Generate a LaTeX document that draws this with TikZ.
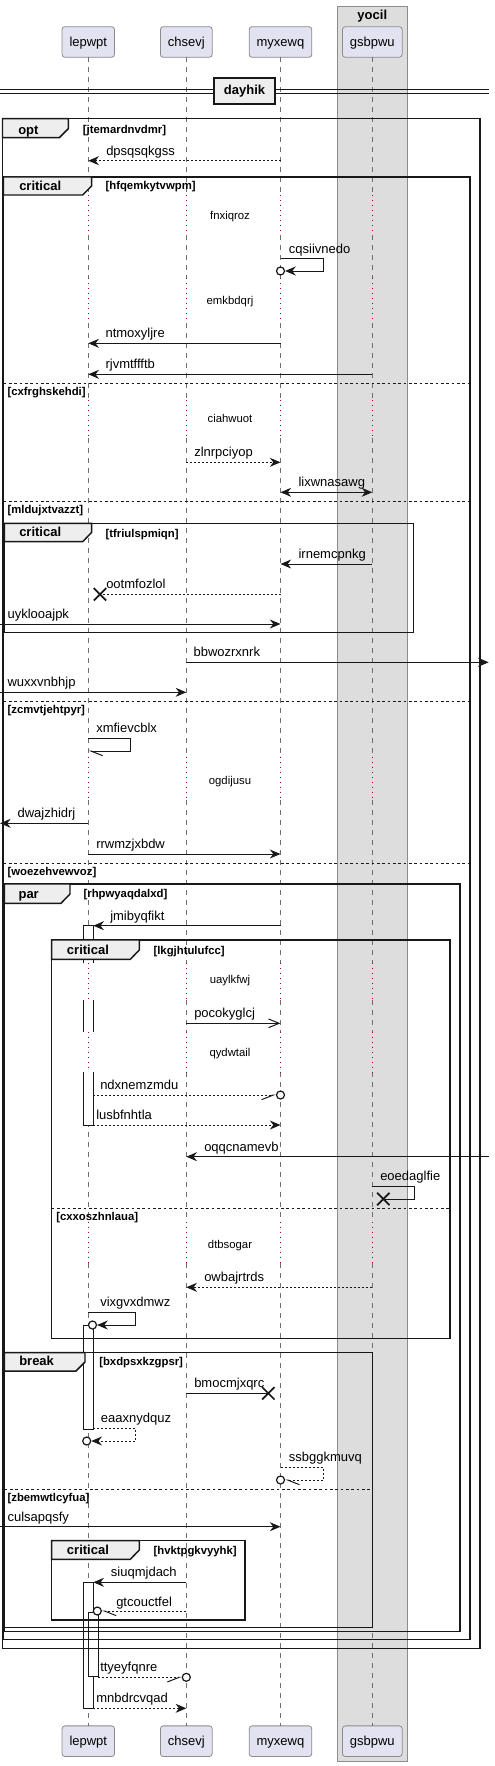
\documentclass[tikz,border=0pt]{standalone}
\usepackage{fontspec}
\setmainfont{Liberation Sans}
\usetikzlibrary{positioning,calc,arrows.meta,shapes.misc}
\definecolor{seqPartFill}{HTML}{E2E2F0}
\definecolor{seqPartLine}{HTML}{8C8C8C}
\definecolor{seqBoxFill}{HTML}{DDDDDD}
\definecolor{seqBoxLine}{HTML}{8C8C8C}
\definecolor{seqTabFill}{HTML}{EEEEEE}
\definecolor{seqLifeLine}{HTML}{707070}
\definecolor{seqDelayLine}{HTML}{A80036}
\definecolor{seqInk}{HTML}{181818}
\newcommand{\msgfont}{\fontsize{9.75}{11.5}\selectfont}
\newcommand{\notefont}{\fontsize{8.5}{10}\selectfont}
\tikzset{
  part/.style={
    rectangle, rounded corners=2.2pt,
    draw=seqPartLine, fill=seqPartFill, line width=0.6pt,
    inner xsep=5.6pt, minimum height=23pt,
    text height=7.5pt, text depth=0.5pt, font=\msgfont,
  },
  seq box/.style={draw=seqBoxLine, fill=seqBoxFill, line width=0.6pt},
  box title/.style={font=\msgfont\bfseries, anchor=base, inner sep=0pt},
  life/.style={draw=seqLifeLine, line width=0.6pt, dash pattern=on 3.75pt off 3.75pt},
  delay line/.style={draw=seqDelayLine, line width=0.75pt, dash pattern=on 0.75pt off 3pt},
  delay text/.style={font=\notefont, anchor=base, inner sep=0pt},
  divider/.style={
    rectangle, draw=seqInk, fill=seqTabFill, line width=1.5pt,
    minimum width=45.75pt, minimum height=19.5pt, font=\msgfont\bfseries,
  },
  group frame/.style={draw=seqInk, line width=1.1pt},
  group tab/.style={draw=seqInk, fill=seqTabFill, line width=1.1pt},
  group title/.style={font=\msgfont\bfseries, anchor=base west, inner sep=0pt},
  group guard/.style={font=\notefont\bfseries, anchor=base west, inner sep=0pt},
  else line/.style={draw=seqInk, line width=0.75pt, dash pattern=on 2pt off 2pt},
  msg line/.style={draw=seqInk, line width=0.75pt},
  msg/.style={msg line, -{Stealth[length=8pt,width=6.75pt,inset=2.6pt]}},
  msg both/.style={msg line, {Stealth[length=8pt,width=6.75pt,inset=2.6pt]}-{Stealth[length=8pt,width=6.75pt,inset=2.6pt]}},
  open msg/.style={msg line, -{Straight Barb[length=8pt,width=6.5pt]}},
  half msg/.style={msg line, -{Straight Barb[#1,length=8.8pt,width=7pt]}},
  dashed msg/.style={dash pattern=on 1.5pt off 1.5pt},
  lbl/.style={font=\msgfont, anchor=base west, inner sep=0pt},
  act/.style={draw=seqInk, fill=white, line width=0.75pt},
  end circle/.style={circle, draw=seqInk, fill=white, line width=0.9pt, inner sep=0pt, minimum size=6pt},
  lost cross/.style={cross out, draw=seqInk, line width=1.3pt, inner sep=0pt, minimum size=8pt},
}

\begin{document}
\begin{tikzpicture}[x=0.75pt,y=-0.75pt]
\useasboundingbox (0,0) rectangle (495,1766);
\coordinate (leftEdge) at (0,0);
\coordinate (rightEdge) at (488.7,0);

% --- box yocil ---
\draw[seq box] (337.3,6) rectangle (407.3,1761);
\node[box title] (yocil) at (372.3,19.5) {yocil};

% --- participants, top and bottom ---
\node[part] (lepwpt) at (88.3,42) {lepwpt};
\node[part] (chsevj) at (186.3,42) {chsevj};
\node[part] (myxewq) at (280.5,42) {myxewq};
\node[part] (gsbpwu) at (372.3,42) {gsbpwu};
\node[part] (lepwptB) at (88.3,1741.2) {lepwpt};
\node[part] (chsevjB) at (186.3,1741.2) {chsevj};
\node[part] (myxewqB) at (280.5,1741.2) {myxewq};
\node[part] (gsbpwuB) at (372.3,1741.2) {gsbpwu};

% --- lifelines, dotted where a delay is ---
\foreach \p in {lepwpt,chsevj,myxewq,gsbpwu}{
  \foreach \a/\b in {57.3/195,235/278,323/400,438/756.7,800/963.3,1000/1031.7,1072.3/1221.7,1263.3/1725.7}
    \draw[life] (\p |- 0,\a) -- (\p |- 0,\b);
  \foreach \a/\b in {195/235,278/323,400/438,756.7/800,963.3/1000,1031.7/1072.3,1221.7/1263.3}
    \draw[delay line] (\p |- 0,\a) -- (\p |- 0,\b);
}

% --- divider ---
\draw[msg line] (leftEdge |- 0,89.5) -- (rightEdge |- 0,89.5);
\draw[msg line] (leftEdge |- 0,93.5) -- (rightEdge |- 0,93.5);
\node[divider] (dayhik) at (244.5,91) {dayhik};

% --- activations on lepwpt ---
\draw[act] (83.3,963.3) -- (83.3,925.7) -- (93.3,925.7) -- (93.3,963.3);
\fill[white] (83.3,1000) rectangle (93.3,1031.7);
\draw[act] (83.3,1000) -- (83.3,1031.7) (93.3,1000) -- (93.3,1031.7);
\draw[act] (83.3,1072.3) -- (83.3,1125) -- (93.3,1125) -- (93.3,1072.3);
\draw[act] (83.3,1325) rectangle (93.3,1429);
\draw[act] (83.3,1582.3) rectangle (93.3,1708.3);
\draw[act] (88.3,1612.3) rectangle (98.3,1676.7);

% --- group frames ---
\draw[group frame] (2.5,118.7) rectangle (480,1648.3);   % opt
\draw[group frame] (3.5,177) rectangle (470,1639.7);     % critical
\draw[group frame] (4.5,523.3) rectangle (413.3,632.3);  % critical (inner)
\draw[group frame] (4.5,884) rectangle (460,1631.7);     % par
\draw[group frame] (51.7,940) rectangle (450,1338.3);    % critical (par)
\draw[group frame] (4.5,1352.7) rectangle (372.3,1627.7);% break
\draw[group frame] (51.7,1540.7) rectangle (245,1620);   % critical (break)

% opt tab
\draw[group tab] (2.5,118.7) -- (68.3,118.7) -- (68.3,128.7) -- (59.3,137.7) -- (2.5,137.7) -- cycle;
\node[group title] (optTab) at (18,134.2) {opt};
\node[group guard] (jtemardnvdmr) at (82.7,133.5) {[jtemardnvdmr]};

% critical tab
\draw[group tab] (3.5,177) -- (91.7,177) -- (91.7,186) -- (82.7,195) -- (3.5,195) -- cycle;
\node[group title] (critTabA) at (19,190.5) {critical};
\node[group guard] (hfqemkytvwpm) at (105.3,189.5) {[hfqemkytvwpm]};

% --- messages ---
\draw[msg, dashed msg] (myxewq |- 0,160.7) -- (lepwpt |- 0,160.7);
\node[lbl] (dpsqsqkgss) at (106,155.2) {dpsqsqkgss};

\node[delay text] (fnxiqroz) at (230,219.7) {fnxiqroz};
\node[end circle] (cqsEnd) at (myxewq |- 0,271) {};
\draw[msg] (myxewq |- 0,258.3) -| (323.3,271) -- (cqsEnd.east);
\node[lbl] (cqsiivnedo) at (288.7,253.3) {cqsiivnedo};
\node[delay text] (emkbdqrj) at (230,304.7) {emkbdqrj};
\draw[msg] (myxewq |- 0,343.3) -- (lepwpt |- 0,343.3);
\node[lbl] (ntmoxyljre) at (105.3,337.8) {ntmoxyljre};
\draw[msg] (gsbpwu |- 0,374.3) -- (lepwpt |- 0,374.3);
\node[lbl] (rjvmtffftb) at (105.3,368.8) {rjvmtffftb};

% else [cxfrghskehdi]
\draw[else line] (3.5,383.3) -- (470,383.3);
\node[group guard] (cxfrghskehdi) at (7.3,395.3) {[cxfrghskehdi]};
\node[delay text] (ciahwuot) at (230,422) {ciahwuot};
\draw[msg, dashed msg] (chsevj |- 0,462.3) -- (myxewq |- 0,462.3);
\node[lbl] (zlnrpciyop) at (194,456.8) {zlnrpciyop};
\draw[msg both] (myxewq |- 0,492.3) -- (gsbpwu |- 0,492.3);
\node[lbl] (lixwnasawg) at (298.3,486.8) {lixwnasawg};

% else [mldujxtvazzt]
\draw[else line] (3.5,501) -- (470,501);
\node[group guard] (mldujxtvazzt) at (7.3,513) {[mldujxtvazzt]};
\draw[group tab] (4.5,523.3) -- (91.7,523.3) -- (91.7,532.3) -- (82.7,541.7) -- (4.5,541.7) -- cycle;
\node[group title] (critTabB) at (19,536.8) {critical};
\node[group guard] (tfriulspmiqn) at (105.3,537) {[tfriulspmiqn]};
\draw[msg] (gsbpwu |- 0,564) -- (myxewq |- 0,564);
\node[lbl] (irnemcpnkg) at (298.3,558.5) {irnemcpnkg};
\node[lost cross] (ootEnd) at (100,594.3) {};
\draw[msg line, dashed msg] (myxewq |- 0,594.3) -- (ootEnd.center);
\node[lbl] (ootmfozlol) at (106,588.8) {ootmfozlol};
\draw[msg] (leftEdge |- 0,624) -- (myxewq |- 0,624);
\node[lbl] (uyklooajpk) at (7.3,618.5) {uyklooajpk};
\draw[msg] (chsevj |- 0,662.3) -- (rightEdge |- 0,662.3);
\node[lbl] (bbwozrxnrk) at (193.3,656.8) {bbwozrxnrk};
\draw[msg] (leftEdge |- 0,692.3) -- (chsevj |- 0,692.3);
\node[lbl] (wuxxvnbhjp) at (7.3,686.8) {wuxxvnbhjp};

% else [zcmvtjehtpyr]
\draw[else line] (3.5,701) -- (470,701);
\node[group guard] (zcmvtjehtpyr) at (7.3,713) {[zcmvtjehtpyr]};
\draw[half msg=left] (lepwpt |- 0,738.3) -| (130,751) -- (lepwpt |- 0,751);
\node[lbl] (xmfievcblx) at (96,732.8) {xmfievcblx};
\node[delay text] (ogdijusu) at (230,784.7) {ogdijusu};
\draw[msg] (lepwpt |- 0,823.3) -- (leftEdge |- 0,823.3);
\node[lbl] (dwajzhidrj) at (17.3,817.8) {dwajzhidrj};
\draw[msg] (lepwpt |- 0,854) -- (myxewq |- 0,854);
\node[lbl] (rrwmzjxbdw) at (96,848.5) {rrwmzjxbdw};

% else [woezehvewvoz]
\draw[else line] (3.5,863.3) -- (470,863.3);
\node[group guard] (woezehvewvoz) at (7.3,875.3) {[woezehvewvoz]};
\draw[group tab] (4.5,884) -- (70,884) -- (70,894) -- (61,903.3) -- (4.5,903.3) -- cycle;
\node[group title] (parTab) at (18.3,898.5) {par};
\node[group guard] (rhpwyaqdalxd) at (83.3,897.5) {[rhpwyaqdalxd]};
\draw[msg] (myxewq |- 0,925.7) -- ($(lepwpt |- 0,925.7)+(5,0)$);
\node[lbl] (jmibyqfikt) at (110,920.2) {jmibyqfikt};

\draw[group tab] (51.7,940) -- (139.3,940) -- (139.3,950) -- (130.3,959.3) -- (51.7,959.3) -- cycle;
\node[group title] (critTabC) at (66.7,954.2) {critical};
\node[group guard] (lkgjhtulufcc) at (153.3,954) {[lkgjhtulufcc]};
\node[delay text] (uaylkfwj) at (230,983) {uaylkfwj};
\draw[open msg] (chsevj |- 0,1023.3) -- (myxewq |- 0,1023.3);
\node[lbl] (pocokyglcj) at (194,1017.8) {pocokyglcj};
\node[delay text] (qydwtail) at (230,1056.3) {qydwtail};
\node[end circle] (ndxEnd) at (myxewq |- 0,1095) {};
\draw[half msg=right, dashed msg] ($(lepwpt |- 0,1095)+(5,0)$) -- (ndxEnd.west);
\node[lbl] (ndxnemzmdu) at (100,1089.5) {ndxnemzmdu};
\draw[msg, dashed msg] ($(lepwpt |- 0,1125)+(5,0)$) -- (myxewq |- 0,1125);
\node[lbl] (lusbfnhtla) at (96,1119.5) {lusbfnhtla};
\draw[msg] (rightEdge |- 0,1156.7) -- (chsevj |- 0,1156.7);
\node[lbl] (oqqcnamevb) at (204,1151.2) {oqqcnamevb};
\node[lost cross] (eoeEnd) at (383.3,1199) {};
\draw[msg line] (gsbpwu |- 0,1186) -| (414.3,1199) -- (eoeEnd.center);
\node[lbl] (eoedaglfie) at (380,1180.5) {eoedaglfie};

% else [cxxoszhnlaua]
\draw[else line] (51.7,1208.3) -- (450,1208.3);
\node[group guard] (cxxoszhnlaua) at (56,1220.3) {[cxxoszhnlaua]};
\node[delay text] (dtbsogar) at (230,1248.7) {dtbsogar};
\draw[msg, dashed msg] (gsbpwu |- 0,1287.3) -- (chsevj |- 0,1287.3);
\node[lbl] (owbajrtrds) at (204,1281.8) {owbajrtrds};
\node[end circle] (vixEnd) at (92.5,1325) {};
\draw[msg] (lepwpt |- 0,1312.3) -| (135.7,1325) -- (vixEnd.east);
\node[lbl] (vixgvxdmwz) at (100,1306.8) {vixgvxdmwz};

% break
\draw[group tab] (4.5,1352.7) -- (85,1352.7) -- (85,1362) -- (76,1371) -- (4.5,1371) -- cycle;
\node[group title] (breakTab) at (19,1365.8) {break};
\node[group guard] (bxdpsxkzgpsr) at (99,1365.5) {[bxdpsxkzgpsr]};
\node[lost cross] (bmoEnd) at (268.3,1393.3) {};
\draw[msg line] (chsevj |- 0,1393.3) -- (bmoEnd.center);
\node[lbl] (bmocmjxqrc) at (194,1387.8) {bmocmjxqrc};
\node[end circle] (eaaEnd) at (86.7,1441) {};
\draw[msg, dashed msg] ($(lepwpt |- 0,1428.3)+(5,0)$) -| (135.7,1441) -- (eaaEnd.east);
\node[lbl] (eaaxnydquz) at (100.7,1422.8) {eaaxnydquz};
\node[end circle] (ssbEnd) at (myxewq |- 0,1480) {};
\draw[half msg=left, dashed msg] (myxewq |- 0,1467.3) -| (323.3,1480) -- (ssbEnd.east);
\node[lbl] (ssbggkmuvq) at (288.7,1461.8) {ssbggkmuvq};

% else [zbemwtlcyfua]
\draw[else line] (4.5,1489.3) -- (372.3,1489.3);
\node[group guard] (zbemwtlcyfua) at (7.3,1501.3) {[zbemwtlcyfua]};
\draw[msg] (leftEdge |- 0,1526.7) -- (myxewq |- 0,1526.7);
\node[lbl] (culsapqsfy) at (7.3,1521.2) {culsapqsfy};
\draw[group tab] (51.7,1540.7) -- (139.3,1540.7) -- (139.3,1550) -- (130.3,1559.3) -- (51.7,1559.3) -- cycle;
\node[group title] (critTabD) at (66.7,1554.5) {critical};
\node[group guard] (hvktpgkvyyhk) at (153.3,1554) {[hvktpgkvyyhk]};
\draw[msg] (chsevj |- 0,1582.3) -- ($(lepwpt |- 0,1582.3)+(5,0)$);
\node[lbl] (siuqmjdach) at (110.7,1576.8) {siuqmjdach};
\node[end circle] (gtcEnd) at (97.3,1611) {};
\draw[half msg=left, dashed msg] (chsevj |- 0,1611) -- (gtcEnd.east);
\node[lbl] (gtcouctfel) at (116,1606.5) {gtcouctfel};

% after the groups
\node[end circle] (ttyEnd) at (chsevj |- 0,1677.3) {};
\draw[half msg=right, dashed msg] ($(lepwpt |- 0,1677.3)+(10,0)$) -- (ttyEnd.west);
\node[lbl] (ttyeyfqnre) at (100,1671.8) {ttyeyfqnre};
\draw[msg, dashed msg] ($(lepwpt |- 0,1708.3)+(5,0)$) -- (chsevj |- 0,1708.3);
\node[lbl] (mnbdrcvqad) at (96,1702.8) {mnbdrcvqad};

\end{tikzpicture}
\end{document}
